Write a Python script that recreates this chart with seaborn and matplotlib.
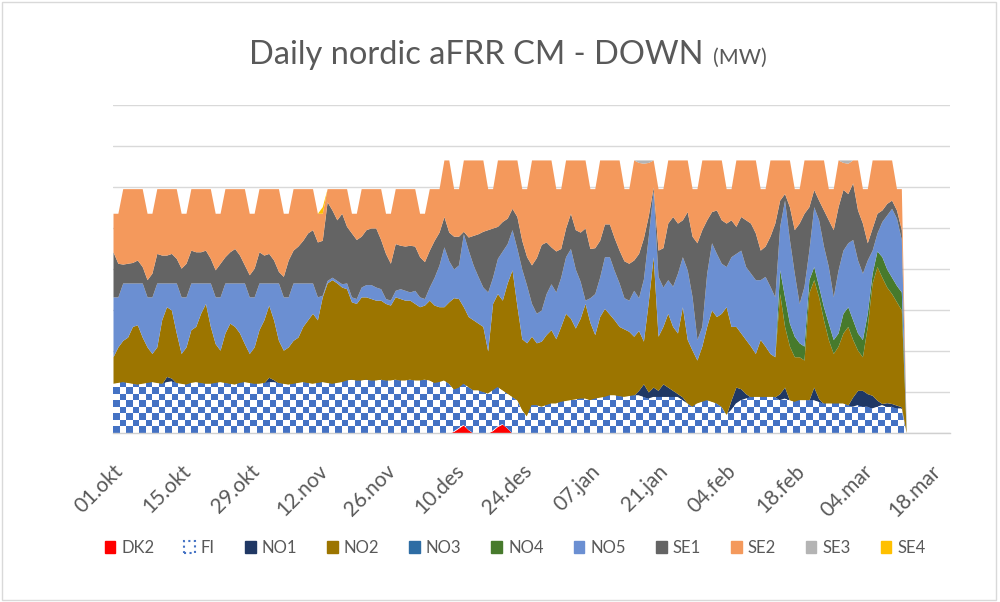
import numpy as np
import pandas as pd
import matplotlib
matplotlib.use("Agg")
import matplotlib.pyplot as plt
from matplotlib.patches import Patch, Rectangle
from matplotlib.colors import ListedColormap
import seaborn as sns

# daily values, 01.10.2022 - 13.03.2023 (MW)
dates = pd.date_range("2022-10-01", "2023-03-13", freq="D")
tick_dates = pd.date_range("2022-10-01", "2023-03-18", freq="14D")
tick_labels = ["01.okt", "15.okt", "29.okt", "12.nov", "26.nov", "10.des", "24.des",
               "07.jan", "21.jan", "04.feb", "18.feb", "04.mar", "18.mar"]

zones = ["DK2", "FI", "NO1", "NO2", "NO3", "NO4", "NO5", "SE1", "SE2", "SE3", "SE4"]

DK2 = [0, 0, 0, 0, 0, 0, 0,  0, 0, 0, 0, 0, 0, 0,  0, 0, 0, 0, 0, 0, 0,  0, 0, 0, 0, 0, 0, 0,
       0, 0, 0, 0, 0, 0, 0,  0, 0, 0, 0, 0, 0, 0,  0, 0, 0, 0, 0, 0, 0,  0, 0, 0, 0, 0, 0, 0,
       0, 0, 0, 0, 0, 0, 0,  0, 0, 0, 0, 0, 0, 0,  2, 6, 10, 4, 0, 0, 0,  0, 3, 8, 11, 6, 0, 0,
       0, 0, 0, 0, 0, 0, 0,  0, 0, 0, 0, 0, 0, 0,  0, 0, 0, 0, 0, 0, 0,  0, 0, 0, 0, 0, 0, 0,
       0, 0, 0, 0, 0, 0, 0,  0, 0, 0, 0, 0, 0, 0,  0, 0, 0, 0, 0, 0, 0,  0, 0, 0, 0, 0, 0, 0,
       0, 0, 0, 0, 0, 0, 0,  0, 0, 0, 0, 0, 0, 0,  0, 0, 0, 0, 0, 0, 0,  0, 0, 0]

FI = [60, 61, 62, 61, 60, 59, 60,  61, 62, 61, 60, 62, 63, 61,  60, 59, 61, 62, 61, 60, 60,
      61, 62, 61, 60, 59, 61, 62,  61, 60, 60, 61, 62, 62, 61,  60, 59, 60, 61, 62, 61, 60,
      61, 62, 61, 60, 61, 62, 64,  65, 64, 64, 65, 64, 64, 65,  64, 64, 65, 64, 64, 65, 64,
      64, 65, 64, 61, 62, 64, 60,  51, 49, 50, 52, 52, 52, 50,  48, 49, 48, 41, 42, 44, 40,
      28, 20, 34, 34, 32, 34, 36,  36, 38, 39, 40, 41, 42, 42,  40, 42, 43, 44, 46, 46, 45,
      44, 45, 46, 46, 44, 42, 44,  44, 44, 44, 44, 44, 40, 36,  32, 36, 38, 40, 38, 36, 32,
      22, 28, 36, 40, 42, 44, 44,  44, 44, 44, 44, 40, 42, 40,  38, 40, 40, 40, 40, 38, 36,
      36, 36, 36, 36, 34, 32, 34,  32, 32, 30, 32, 34, 32, 32,  30, 30, 0]

NO1 = [0, 0, 0, 0, 0, 0, 0,  0, 0, 0, 0, 7, 4, 0,  0, 0, 0, 0, 0, 0, 0,  0, 0, 0, 0, 0, 0, 0,
       0, 0, 0, 0, 6, 3, 0,  0, 0, 0, 0, 0, 0, 0,  0, 0, 0, 0, 0, 0, 0,  0, 0, 0, 0, 0, 0, 0,
       0, 0, 0, 0, 0, 0, 0,  0, 0, 0, 0, 0, 0, 0,  0, 0, 0, 0, 0, 0, 0,  0, 0, 0, 0, 0, 0, 0,
       0, 0, 0, 0, 0, 0, 0,  0, 0, 0, 0, 0, 0, 0,  0, 0, 0, 0, 0, 0, 0,  0, 0, 0, 6, 16, 8, 12,
       8, 16, 12, 8, 4, 4, 0,  0, 0, 0, 0, 0, 0, 0,  0, 12, 20, 14, 6, 0, 0,  0, 0, 0, 0, 8, 14, 0,
       0, 0, 0, 0, 16, 4, 0,  0, 0, 0, 0, 0, 12, 18,  20, 16, 16, 8, 2, 5, 4,  4, 2, 0]

NO2 = [33, 44, 51, 56, 70, 73, 57,  44, 35, 44, 78, 85, 83, 61,  37, 46, 65, 68, 85, 98, 70,
       48, 39, 61, 74, 71, 61, 47,  36, 45, 66, 77, 88, 73, 52,  41, 46, 53, 56, 68, 77, 86,
       77, 104, 122, 127, 122, 116, 112,  95, 94, 102, 101, 100, 98, 97,  94, 92, 101, 100, 98, 97, 94,
       90, 91, 98, 95, 92, 90, 100,  112, 109, 94, 86, 86, 82, 80,  52, 106, 114, 110, 135, 155, 115,
       87, 90, 84, 76, 80, 86, 90,  79, 92, 107, 100, 87, 98, 116,  95, 78, 99, 108, 99, 92, 85,
       83, 79, 72, 73, 52, 110, 159,  66, 70, 90, 78, 74, 110, 78,  69, 53, 68, 90, 112, 106, 114,
       132, 90, 74, 68, 66, 62, 53,  70, 62, 53, 49, 122, 74, 66,  55, 53, 49, 131, 131, 124, 102,
       78, 61, 70, 86, 96, 70, 49,  41, 82, 137, 163, 154, 141, 134,  126, 118, 0]

NO3 = [0, 0, 0, 0, 0, 0, 0,  0, 0, 0, 0, 0, 0, 0,  0, 0, 0, 0, 0, 0, 0,  0, 0, 0, 0, 0, 0, 0,
       0, 0, 0, 0, 0, 0, 0,  0, 0, 0, 0, 0, 0, 0,  0, 0, 0, 0, 0, 0, 0,  0, 0, 0, 0, 0, 0, 0,
       0, 0, 0, 0, 0, 0, 0,  0, 0, 0, 0, 0, 0, 0,  0, 0, 0, 0, 0, 0, 0,  0, 0, 0, 0, 0, 0, 0,
       0, 0, 0, 0, 0, 0, 0,  0, 0, 0, 0, 0, 0, 0,  0, 0, 0, 0, 0, 0, 0,  0, 0, 0, 0, 0, 0, 0,
       0, 0, 0, 0, 0, 0, 0,  0, 0, 0, 0, 0, 0, 0,  0, 0, 0, 0, 0, 0, 0,  0, 0, 0, 0, 0, 0, 0,
       0, 0, 0, 0, 0, 0, 0,  0, 0, 0, 0, 0, 0, 0,  0, 0, 0, 0, 0, 0, 0,  0, 0, 0]

NO4 = [0, 0, 0, 0, 0, 0, 0,  0, 0, 0, 0, 0, 0, 0,  0, 0, 0, 0, 0, 0, 0,  0, 0, 0, 0, 0, 0, 0,
       0, 0, 0, 0, 0, 0, 0,  0, 0, 0, 0, 0, 0, 0,  0, 0, 0, 0, 0, 0, 0,  0, 0, 0, 0, 0, 0, 0,
       0, 0, 0, 0, 0, 0, 0,  0, 0, 0, 0, 0, 0, 0,  0, 0, 0, 0, 0, 0, 0,  0, 0, 0, 0, 0, 0, 0,
       0, 0, 0, 0, 0, 0, 0,  0, 0, 0, 0, 0, 0, 0,  0, 0, 0, 0, 0, 0, 0,  0, 0, 0, 0, 0, 0, 0,
       0, 0, 0, 0, 0, 0, 0,  0, 0, 0, 0, 0, 0, 0,  0, 0, 0, 0, 0, 0, 0,  0, 0, 0, 0, 29, 36, 28,
       25, 17, 17, 16, 16, 13, 16,  20, 17, 16, 24, 24, 24, 21,  21, 16, 12, 19, 25, 22, 20,  20, 22, 0]

NO5 = [73, 61, 70, 66, 53, 51, 66,  61, 69, 78, 45, 29, 33, 61,  69, 61, 57, 53, 37, 25, 53,
       57, 65, 61, 49, 53, 61, 74,  69, 61, 57, 45, 27, 45, 70,  65, 61, 70, 66, 53, 45, 37,
       28, 2, 3, 3, 3, 4, 7,  6, 6, 12, 15, 17, 16, 14,  6, 6, 8, 12, 12, 10, 16,
       12, 8, 16, 34, 51, 73, 50,  35, 41, 89, 81, 67, 57, 48,  72, 32, 43, 60, 48, 49, 70,
       85, 70, 40, 36, 38, 50, 56,  57, 60, 69, 85, 72, 45, 4,  30, 50, 48, 63, 70, 60, 53,
       38, 38, 56, 40, 76, 80, 81,  73, 48, 41, 49, 73, 61, 85,  65, 25, 24, 65, 82, 77, 61,
       49, 85, 89, 101, 89, 89, 90,  73, 85, 82, 73, 53, 118, 102,  77, 48, 73, 36, 73, 81, 74,
       69, 52, 77, 77, 78, 98, 89,  81, 65, 28, 22, 43, 66, 84,  82, 64, 0]

SE1 = [55, 41, 23, 24, 25, 28, 20,  21, 29, 36, 34, 34, 36, 30,  35, 41, 40, 38, 38, 40, 30,
       33, 41, 32, 38, 42, 34, 22,  27, 35, 38, 34, 36, 28, 14,  25, 45, 40, 45, 52, 61, 65,
       67, 67, 96, 82, 74, 86, 69,  78, 72, 62, 67, 69, 72, 60,  55, 45, 57, 53, 54, 57, 54,
       49, 45, 45, 45, 40, 37, 35,  40, 35, 3, 16, 36, 52, 68,  76, 60, 39, 36, 31, 26, 39,
       35, 35, 47, 68, 80, 63, 45,  50, 35, 35, 43, 48, 60, 88,  60, 56, 45, 40, 40, 40, 40,
       45, 45, 37, 54, 50, 25, 4,  32, 48, 69, 85, 61, 45, 71,  74, 118, 118, 65, 38, 53, 53,
       53, 45, 33, 41, 57, 61, 57,  36, 37, 61, 90, 32, 8, 40,  53, 98, 89, 53, 21, 24, 44,
       57, 82, 77, 74, 60, 69, 61,  61, 21, 27, 24, 14, 14, 10,  10, 12, 0]

SE2 = [47, 61, 92, 91, 90, 87, 95,  81, 73, 79, 81, 81, 79, 85,  67, 61, 75, 77, 77, 75, 85,
       69, 61, 83, 77, 73, 81, 93,  75, 67, 77, 81, 79, 87, 101,  77, 57, 75, 70, 63, 54, 50,
       35, 33, 16, 26, 38, 30, 46,  24, 32, 58, 50, 48, 48, 62,  49, 61, 67, 69, 70, 69, 70,
       53, 59, 75, 63, 53, 69, 88,  58, 58, 87, 94, 92, 90, 87,  50, 48, 81, 75, 71, 59, 69,
       63, 83, 128, 119, 103, 100, 106,  76, 73, 83, 65, 85, 88, 83,  73, 72, 98, 78, 78, 95, 110,
       88, 91, 122, 111, 91, 65, 33,  75, 72, 77, 69, 77, 73, 63,  58, 66, 85, 73, 63, 61, 73,
       42, 38, 81, 69, 73, 77, 89,  75, 70, 93, 77, 49, 41, 57,  50, 42, 65, 57, 36, 49, 61,
       38, 50, 57, 33, 37, 28, 61,  42, 66, 83, 65, 61, 53, 49,  26, 50, 0]

SE3 = [0, 0, 0, 0, 0, 0, 0,  0, 0, 0, 0, 0, 0, 0,  0, 0, 0, 0, 0, 0, 0,  0, 0, 0, 0, 0, 0, 0,
       0, 0, 0, 0, 0, 0, 0,  0, 0, 0, 0, 0, 0, 0,  0, 0, 0, 0, 0, 0, 0,  0, 0, 0, 0, 0, 0, 0,
       0, 0, 0, 0, 0, 0, 0,  0, 0, 0, 0, 0, 0, 0,  0, 0, 0, 0, 0, 0, 0,  0, 0, 0, 0, 0, 0, 0,
       0, 0, 0, 0, 0, 0, 0,  0, 0, 0, 0, 0, 0, 0,  0, 0, 0, 0, 0, 0, 0,  0, 0, 0, 3, 4, 3, 0,
       0, 0, 0, 0, 0, 0, 0,  0, 0, 0, 0, 0, 0, 0,  0, 0, 0, 0, 0, 0, 0,  0, 0, 0, 0, 0, 0, 0,
       0, 0, 0, 0, 0, 0, 0,  0, 0, 0, 3, 4, 0, 0,  0, 0, 0, 0, 0, 0, 0,  0, 0, 0]

SE4 = [0, 0, 0, 0, 0, 0, 0,  0, 0, 0, 0, 0, 0, 0,  0, 0, 0, 0, 0, 0, 0,  0, 0, 0, 0, 0, 0, 0,
       0, 0, 0, 0, 0, 0, 0,  0, 0, 0, 0, 0, 0, 0,  0, 8, 0, 0, 0, 0, 0,  0, 0, 0, 0, 0, 0, 0,
       0, 0, 0, 0, 0, 0, 0,  0, 0, 0, 0, 0, 0, 0,  0, 0, 0, 0, 0, 0, 0,  0, 0, 0, 0, 0, 0, 0,
       0, 0, 0, 0, 0, 0, 0,  0, 0, 0, 0, 0, 0, 0,  0, 0, 0, 0, 0, 0, 0,  0, 0, 0, 0, 0, 0, 0,
       0, 0, 0, 0, 0, 0, 0,  0, 0, 0, 0, 0, 0, 0,  0, 0, 0, 0, 0, 0, 0,  0, 0, 0, 0, 0, 0, 0,
       0, 0, 0, 0, 0, 0, 0,  0, 0, 0, 0, 0, 0, 0,  0, 0, 0, 0, 0, 0, 0,  0, 0, 0]

colors = ["#FF0000", "#4472C4", "#203864", "#9C7500", "#2E6DA4", "#477A2C",
          "#6B8FD2", "#646464", "#F4995C", "#B4B4B4", "#FFC000"]

sns.set_theme(style="white")
plt.rcParams["font.family"] = ["Lato", "DejaVu Sans"]
grey_txt = "#595959"

fig = plt.figure(figsize=(10, 6.02), dpi=100)
ax = fig.add_axes([0.113, 0.2807, 0.837, 0.5449])

series = [DK2, FI, NO1, NO2, NO3, NO4, NO5, SE1, SE2, SE3, SE4]
polys = ax.stackplot(dates, *series, colors=colors, linewidth=0, zorder=2)

# FI gets the blue/white checker fill of the original
fi_poly = polys[1]
fi_poly.set_facecolor("white")
checker = np.indices((50, 128)).sum(axis=0) % 2
im = ax.imshow(checker, cmap=ListedColormap(["white", "#4472C4"]), extent=[0, 1, 0, 1],
               transform=ax.transAxes, aspect="auto", interpolation="nearest", zorder=2.5)
im.set_clip_path(fi_poly.get_paths()[0], transform=ax.transData)

ax.set_xlim(pd.Timestamp("2022-10-01"), pd.Timestamp("2023-03-22"))
ax.set_ylim(0, 400)
ax.set_yticks(np.arange(0, 401, 50))
ax.set_yticklabels([])
ax.tick_params(axis="y", length=0)
ax.set_axisbelow(True)
ax.grid(axis="y", color="#D9D9D9", linewidth=1)
ax.grid(axis="x", visible=False)
for side in ["top", "right", "left"]:
    ax.spines[side].set_visible(False)
ax.spines["bottom"].set_color("#D0D0D0")
ax.spines["bottom"].set_linewidth(1)

ax.set_xticks(tick_dates)
ax.set_xticklabels(tick_labels, rotation=45, ha="right", va="top",
                   rotation_mode="anchor", fontsize=15, color=grey_txt)
ax.tick_params(axis="x", length=0, pad=20)
ax.set_xlabel("")

# legend
handles = []
for z, c in zip(zones, colors):
    if z == "FI":
        handles.append(Patch(facecolor="white", edgecolor="#4472C4", linestyle=":", linewidth=1.5))
    else:
        handles.append(Patch(facecolor=c, edgecolor=c))
fig.legend(handles, zones, loc="center", bbox_to_anchor=(0.515, 0.09), ncol=11,
           frameon=False, handlelength=0.65, handleheight=0.65, handletextpad=0.35,
           columnspacing=1.8, fontsize=12, labelcolor=grey_txt)

# title with smaller unit
fig.canvas.draw()
r = fig.canvas.get_renderer()
t1 = fig.text(0, 0.894, "Daily nordic aFRR CM - DOWN", fontsize=23.5, color=grey_txt,
              ha="left", va="baseline")
t2 = fig.text(0, 0.894, "(MW)", fontsize=15.5, color=grey_txt, ha="left", va="baseline")
w1 = t1.get_window_extent(r).width
w2 = t2.get_window_extent(r).width
gap = 9
x0 = 508 - (w1 + gap + w2) / 2
t1.set_x(x0 / 1000)
t2.set_x((x0 + w1 + gap) / 1000)

fig.patches.append(Rectangle((0.002, 0.003), 0.994, 0.993, transform=fig.transFigure,
                             fill=False, edgecolor="#D9D9D9", linewidth=1))

fig.savefig("out.png", dpi=100, facecolor="white")
